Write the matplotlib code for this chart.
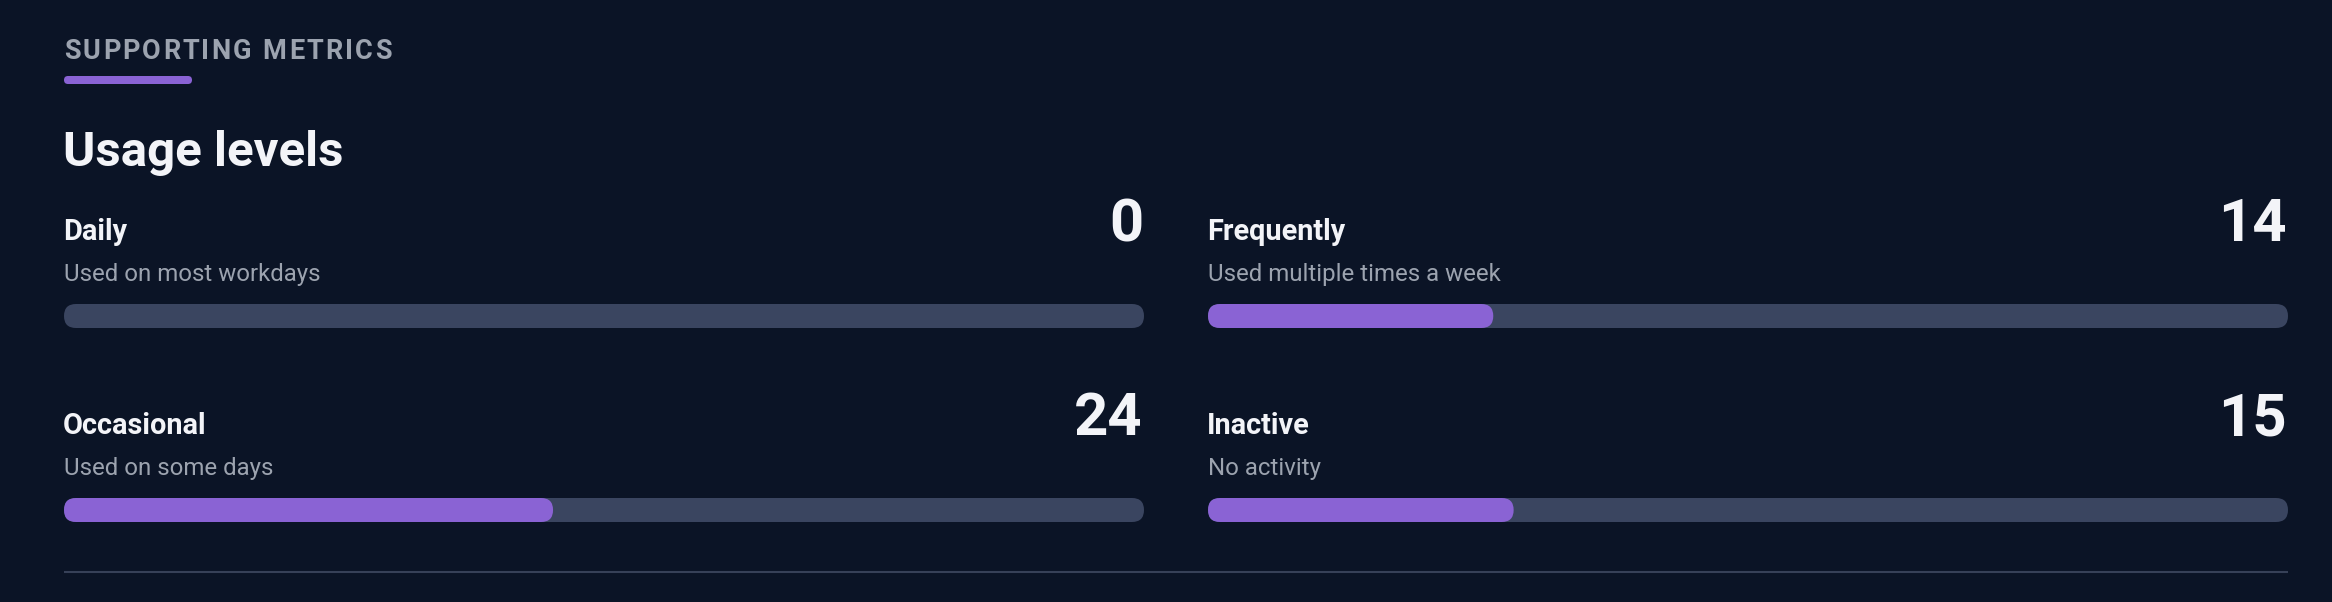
import matplotlib
matplotlib.use("Agg")
import matplotlib.pyplot as plt
from matplotlib.patches import FancyBboxPatch

# ---- data ----
section_title = "SUPPORTING METRICS"
chart_title = "Usage levels"
categories = ["Daily", "Frequently", "Occasional", "Inactive"]
descriptions = ["Used on most workdays", "Used multiple times a week",
                "Used on some days", "No activity"]
counts = [0, 14, 24, 15]
total = sum(counts)

# ---- style ----
BG = "#0b1426"
TRACK = "#3a4560"
FILL = "#8a63d4"
WHITE = "#f3f4f8"
GRAY = "#9ca3af"
LINE = "#374158"
FONT = ["Roboto", "DejaVu Sans"]

W, H = 2332, 602
fig = plt.figure(figsize=(W / 100, H / 100), dpi=100, facecolor=BG)
ax = fig.add_axes([0, 0, 1, 1])
ax.set_xlim(0, W)
ax.set_ylim(H, 0)
ax.axis("off")
ax.set_facecolor(BG)

# header with letter spacing
fig.canvas.draw()
renderer = fig.canvas.get_renderer()
x = 64
spacing = 2.2
for ch in section_title:
    t = ax.text(x, 59, ch, fontsize=19.5, fontweight="bold", color=GRAY,
                family=FONT, va="baseline", ha="left")
    bb = t.get_window_extent(renderer=renderer)
    if ch == " ":
        w = 19.5 * 100 / 72 * 0.25
    else:
        w = bb.width
    x += w + spacing

ax.add_patch(FancyBboxPatch((64, 76), 128, 8,
                            boxstyle="round,pad=0,rounding_size=4",
                            fc=FILL, ec="none"))
ax.text(63, 166, chart_title, fontsize=35.5, fontweight="bold", color=WHITE,
        family=FONT, va="baseline", ha="left")

# grid of metrics
col_x = [64, 1208]
bar_w = 1080
row_y = [240, 434]  # label baselines
for i, (cat, desc, val) in enumerate(zip(categories, descriptions, counts)):
    r, c = divmod(i, 2)
    x0 = col_x[c]
    yb = row_y[r]
    ax.text(x0 - 1, yb, cat, fontsize=20.8, fontweight="bold", color=WHITE,
            family=FONT, va="baseline", ha="left")
    ax.text(x0, yb + 41, desc, fontsize=17.3, color=GRAY,
            family=FONT, va="baseline", ha="left")
    ax.text(x0 + bar_w - 1, yb + 1, str(val), fontsize=43, fontweight="bold",
            color=WHITE, family=FONT, va="baseline", ha="right")
    bar_top = yb + 64
    ax.add_patch(FancyBboxPatch((x0, bar_top), bar_w, 24,
                                boxstyle="round,pad=0,rounding_size=12",
                                fc=TRACK, ec="none"))
    fw = val / total * bar_w
    if fw > 0:
        ax.add_patch(FancyBboxPatch((x0, bar_top), max(fw, 24), 24,
                                    boxstyle="round,pad=0,rounding_size=12",
                                    fc=FILL, ec="none"))

# bottom separator
ax.plot([64, 2288], [572, 572], color=LINE, lw=1.5, solid_capstyle="butt")

fig.savefig("out.png", dpi=100, facecolor=BG)
